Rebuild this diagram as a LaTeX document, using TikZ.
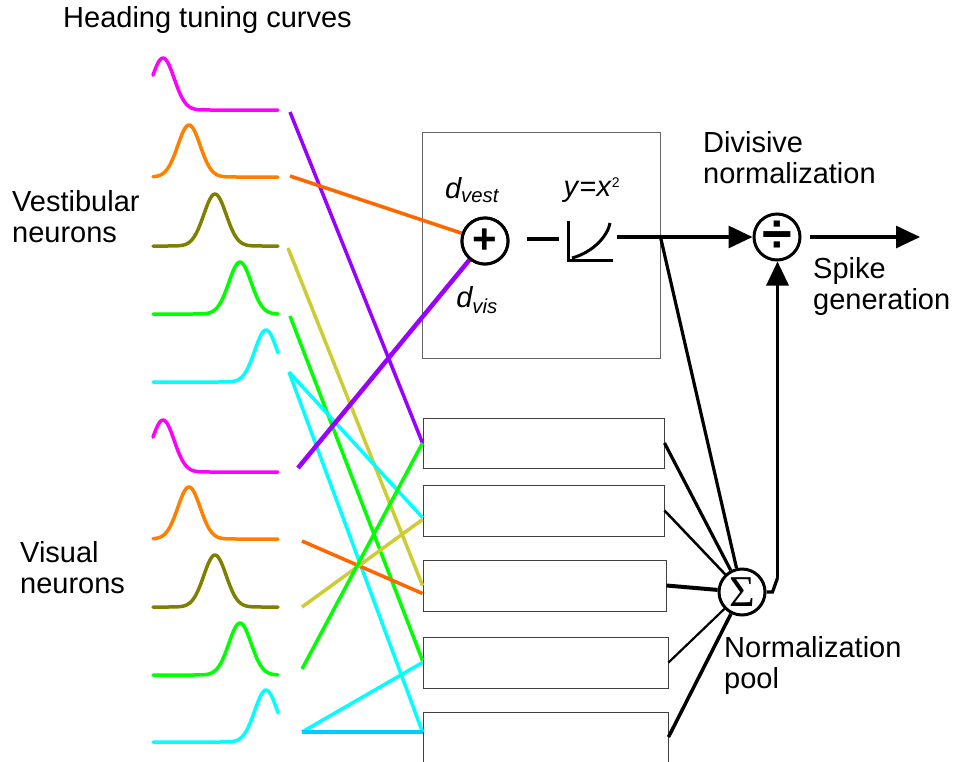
\documentclass[tikz,border=0pt]{standalone}
\usepackage{fontspec}
\setmainfont{Liberation Sans}
\newfontfamily\sigmafont{Liberation Serif}
\usetikzlibrary{arrows.meta,calc}

\definecolor{tcmag}{RGB}{255,0,255}
\definecolor{tcorange}{RGB}{255,128,0}
\definecolor{tcolive}{RGB}{128,128,0}
\definecolor{tcgreen}{RGB}{0,255,0}
\definecolor{tccyan}{RGB}{0,255,255}
\definecolor{lnpurple}{RGB}{153,0,255}
\definecolor{lnorange}{RGB}{255,102,0}
\definecolor{lnolive}{RGB}{204,204,51}
\definecolor{lnblue}{RGB}{0,204,255}

\tikzset{
  curve/.style={line width=3.5pt, line join=round, line cap=round},
  wire/.style={line width=3.5pt},
  link/.style={line width=3.2pt, black},
  unitbox/.style={draw=black!75, line width=1pt, minimum width=241pt, minimum height=50pt, inner sep=0pt},
  opnode/.style={circle, draw, line width=3pt, minimum size=46pt, inner sep=0pt, fill=white},
  lbl/.style={font=\fontsize{29}{31}\selectfont, align=left, inner sep=0pt},
  bigtip/.style={-{Triangle[length=24pt,width=22pt]}}
}

\begin{document}
\begin{tikzpicture}[x=1pt,y=-1pt]
\useasboundingbox (0,0) rectangle (956,761);

% tuning curves
\foreach \mu/\base/\col in {163/110/tcmag, 189/177/tcorange, 215/246/tcolive, 240/314/tcgreen, 266/382/tccyan,
                            163/472/tcmag, 189/539/tcorange, 215/607/tcolive, 240/675/tcgreen, 266/742/tccyan}
  \draw[curve,\col] plot[domain=153:278,samples=90,smooth] (\x,{\base-52*exp(-((\x-\mu)^2)/250)});

\coordinate (vs1) at (290,112);
\coordinate (vs2) at (290,176);
\coordinate (vs3) at (288,248);
\coordinate (vs4) at (290,316);
\coordinate (vs5) at (289,372);
\coordinate (vi1) at (298,468);
\coordinate (vi2) at (302,541);
\coordinate (vi3) at (302,607);
\coordinate (vi4) at (302,669);
\coordinate (vi5) at (302,732);

% boxes
\node[draw=black!60, line width=1pt, minimum width=238pt, minimum height=226pt, inner sep=0pt] (lin) at (541,245) {};
\node[unitbox] (b1) at (543.5,443) {};
\node[unitbox, minimum height=51pt] (b2) at (543.5,510.5) {};
\node[unitbox, minimum width=243pt, minimum height=51pt] (b3) at (544.5,585.5) {};
\node[unitbox, minimum width=245pt, minimum height=51pt] (b4) at (545.5,662.5) {};
\node[unitbox, minimum width=245pt] (b5) at (545.5,737) {};

\node[opnode] (add) at (485,241) {\fontsize{42}{42}\selectfont\bfseries +};
\node[opnode] (div) at (777,237) {\fontsize{54}{54}\selectfont\bfseries ÷};
\node[opnode] (pool) at (742,592) {\fontsize{44}{44}\sigmafont Σ};

% connections
\begin{scope}[wire]
  \draw[lnpurple] (vs1) -- (b1.west);
  \draw[lnorange] (vs2) -- (add);
  \draw[lnolive] (vs3) -- (b3.west);
  \draw[tcgreen] (vs4) -- ($(b4.west)+(0,-2)$);
  \draw[tccyan] (vs5) -- ($(b2.west)+(0,7)$);
  \draw[tccyan] (vs5) -- ($(b5.west)+(0,-5)$);
  \draw[lnpurple, line width=4.5pt] (vi1) -- (add);
  \draw[lnorange] (vi2) -- ($(b3.west)+(0,8)$);
  \draw[lnolive] (vi3) -- ($(b2.west)+(0,9)$);
  \draw[tcgreen] (vi4) -- (b1.west);
  \draw[tccyan] (vi5) -- (b4.west);
  \draw[lnblue] (vi5) -- ($(b5.west)+(0,-5)$);
\end{scope}

\node[opnode] at (add) {\fontsize{42}{42}\selectfont\bfseries +};

% squaring
\coordinate (rect) at (590,241);
\draw[link] ($(add.east)+(17,-2)$) -- ++(32,0);
\draw[link, line width=3pt] ($(rect)+(-22,-20)$) -- ++(0,39) -- ++(45,0);
\draw[link, line width=3pt] ($(rect)+(-18,17)$) .. controls +(22,-6) and +(-2,12) .. ($(rect)+(20,-18)$);
\draw[link, bigtip] ($(rect)+(27,-4)$) -- (div);

\coordinate (split) at (lin.east |- div);
\coordinate (out) at (920,237);
\draw[link, bigtip] ($(div.east)+(8,0)$) -- (out);

% pool
\draw[link] (split) -- (pool);
\draw[link] (b1.east) -- (pool);
\draw[link, line width=2.5pt] (b2.east) -- (pool);
\draw[link, line width=4pt] (b3.east) -- (pool);
\draw[link, line width=2.2pt] (b4.east) -- (pool);
\draw[link, line width=3.5pt] (b5.east) -- (pool);
\draw[link] (pool.east) -- ++(6,0) -- ++(5,-14) coordinate (bend);
\draw[link, bigtip] (bend) -- (bend |- div.south);

% labels
\node[lbl, anchor=west] (title) at (63,20) {Heading tuning curves};
\node[lbl, anchor=west] (vestlbl) at (12,217) {Vestibular\\neurons};
\node[lbl, anchor=west] (vislbl) at (20,568) {Visual\\neurons};
\node[lbl, anchor=west] (divlbl) at (703,158) {Divisive\\normalization};
\node[lbl, anchor=west] (spikelbl) at (813,286) {Spike\\generation};
\node[lbl, anchor=west] (poollbl) at (724,665) {Normalization\\pool};
\node[lbl, font=\fontsize{29}{31}\selectfont\itshape] (dvest) at (472,190) {d\textsubscript{vest}};
\node[lbl, font=\fontsize{29}{31}\selectfont\itshape] (dvis) at (477,300) {d\textsubscript{vis}};
\node[lbl] (square) at (592,190) {\textit{y}=\textit{x}\textsuperscript{\fontsize{14}{14}\selectfont 2}};

\end{tikzpicture}
\end{document}
